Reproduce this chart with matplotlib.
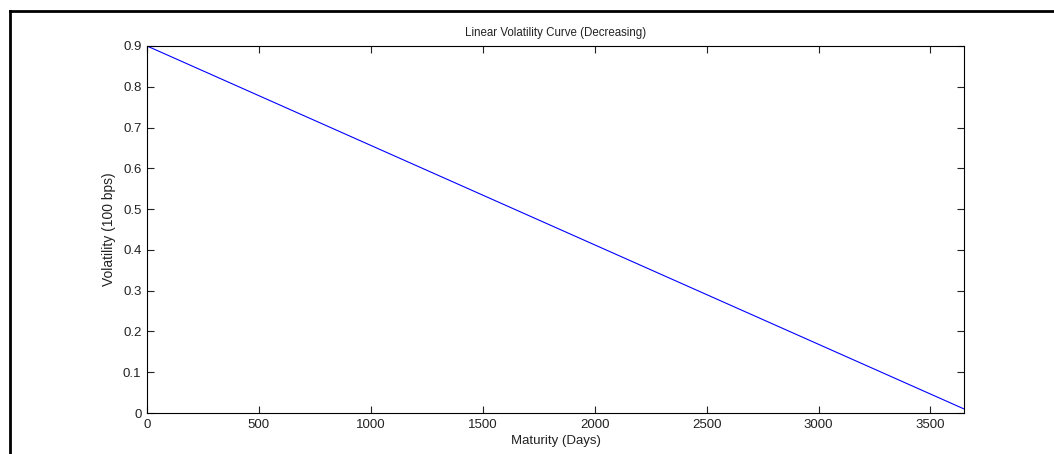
import matplotlib.pyplot as plt
from matplotlib.lines import Line2D

plt.rcParams['font.family'] = ['Liberation Sans', 'DejaVu Sans']

# linear volatility curve, decreasing with maturity
maturity_days = [0, 3650]
volatility = [0.9, 0.01]

x_ticks = [0, 500, 1000, 1500, 2000, 2500, 3000, 3500]
y_ticks = [0, 0.1, 0.2, 0.3, 0.4, 0.5, 0.6, 0.7, 0.8, 0.9]

fig = plt.figure(figsize=(10.54, 4.54), dpi=100)
ax = fig.add_axes([0.1395, 0.0903, 0.7751, 0.8084])

ax.plot(maturity_days, volatility, color='#0000ff', linewidth=0.8)

ax.set_xlim(0, 3650)
ax.set_ylim(0, 0.9)
ax.set_xticks(x_ticks)
ax.set_yticks(y_ticks)
ax.set_yticklabels(['0'] + ['%.1f' % v for v in y_ticks[1:]])
ax.tick_params(direction='in', length=5, labelsize=9.5, width=0.8, colors='#222222')
ax.tick_params(top=True, right=True)
ax.tick_params(axis='y', pad=4)
ax.tick_params(axis='x', pad=4)
for s in ax.spines.values():
    s.set_linewidth(0.8)

ax.set_title('Linear Volatility Curve (Decreasing)', fontsize=8.3, pad=7, color='#222222')
ax.set_xlabel('Maturity (Days)', fontsize=9.5, labelpad=3, color='#222222')
ax.set_ylabel('Volatility (100 bps)', fontsize=10, color='#222222')
ax.yaxis.set_label_coords(-0.038, 0.5)

# page frame lines
fig.add_artist(Line2D([0.0095, 1.0], [0.975, 0.975], color='black', linewidth=2))
fig.add_artist(Line2D([0.0095, 0.0095], [0.0, 0.975], color='black', linewidth=2))

fig.savefig('out.png', dpi=100)
